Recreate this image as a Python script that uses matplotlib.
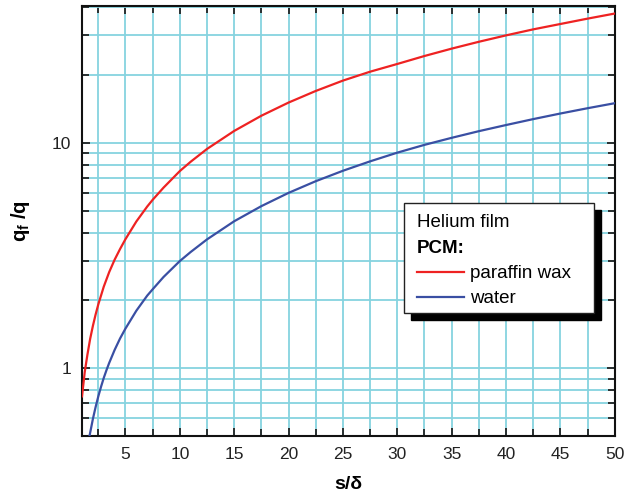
import matplotlib
matplotlib.use("Agg")
import matplotlib.pyplot as plt
from matplotlib.patches import Rectangle
from matplotlib.lines import Line2D
from matplotlib.ticker import MultipleLocator, FixedLocator, NullFormatter, FixedFormatter

plt.rcParams['font.family'] = ['Liberation Sans', 'DejaVu Sans']
plt.rcParams['mathtext.fontset'] = 'custom'
plt.rcParams['mathtext.rm'] = 'Liberation Sans'
plt.rcParams['mathtext.bf'] = 'Liberation Sans:bold'

# data
x_wax = [1.0, 1.25, 1.5, 1.75, 2.0, 2.25, 2.5, 3.0, 3.5, 4.0, 4.5, 5.0, 6.0, 7.0, 7.5, 8.5,
         10, 11, 12.5, 15, 17.5, 20, 22.5, 25, 27.5, 30, 32.5, 35, 37.5, 40, 42.5, 45, 47.5, 50]
y_wax = [0.75, 0.96, 1.15, 1.35, 1.54, 1.73, 1.92, 2.3, 2.67, 3.03, 3.38, 3.74, 4.48, 5.22, 5.59, 6.33,
         7.5, 8.25, 9.4, 11.3, 13.2, 15.1, 17.0, 18.9, 20.7, 22.4, 24.3, 26.2, 28.1, 30.0, 31.9, 33.7, 35.6, 37.5]
x_water = [1.69, 2.0, 2.25, 2.5, 2.75, 3.0, 3.25, 3.5, 4.0, 4.5, 5.0, 6.0, 7.0, 7.5, 8.5,
           10, 11, 12.5, 15, 17.5, 20, 22.5, 25, 27.5, 30, 32.5, 35, 37.5, 40, 42.5, 45, 47.5, 50]
y_water = [0.5, 0.595, 0.672, 0.75, 0.827, 0.905, 0.98, 1.055, 1.205, 1.355, 1.5, 1.8, 2.1, 2.24, 2.54,
           2.99, 3.28, 3.73, 4.49, 5.24, 6.0, 6.76, 7.52, 8.28, 9.05, 9.8, 10.53, 11.27, 12.0, 12.75, 13.5, 14.25, 15.0]

legend_title = "Helium film"
legend_sub = "PCM:"
labels = ["paraffin wax", "water"]
colors = ["#ee2222", "#3a4fa3"]

x_major = [5, 10, 15, 20, 25, 30, 35, 40, 45, 50]
y_major = [1, 10]
y_major_labels = ["1", "10"]
y_minor = [0.5, 0.6, 0.7, 0.8, 0.9, 2, 3, 4, 5, 6, 7, 8, 9, 20, 30, 40]

grid_color = "#86d3df"

fig = plt.figure(figsize=(6.26, 5.01), dpi=100)
ax = fig.add_axes([0.131, 0.1297, 0.851, 0.8583])

ax.set_yscale('log')
ax.set_xlim(1.0, 50)
ax.set_ylim(0.5, 40.5)

ax.xaxis.set_major_locator(FixedLocator(x_major))
ax.xaxis.set_minor_locator(MultipleLocator(2.5))
ax.yaxis.set_major_locator(FixedLocator(y_major))
ax.yaxis.set_major_formatter(FixedFormatter(y_major_labels))
ax.yaxis.set_minor_locator(FixedLocator(y_minor))
ax.yaxis.set_minor_formatter(NullFormatter())

ax.grid(True, which='both', color=grid_color, linewidth=1.3, zorder=0)
ax.set_axisbelow(True)

ax.tick_params(which='both', direction='in', top=True, right=True, colors='#222222',
               labelsize=12.5, width=1.3)
ax.tick_params(which='major', length=6, pad=8)
ax.tick_params(which='minor', length=5)
for s in ax.spines.values():
    s.set_linewidth(1.5)
    s.set_color('#111111')

l1, = ax.plot(x_wax, y_wax, color=colors[0], lw=1.6, zorder=3)
l2, = ax.plot(x_water, y_water, color=colors[1], lw=1.6, zorder=3)

ax.set_xlabel("s/δ", fontsize=14, fontweight='bold', labelpad=10)
ax.set_ylabel(r"$\mathbf{q_f}$ $\mathbf{/q}$", fontsize=14.5, labelpad=14)

# custom legend box with shadow (axes coordinates)
def px2ax(px, py):
    x0, y0 = 82, 436
    x1, y1 = 615, 6
    return (px - x0) / (x1 - x0), (y0 - py) / (y0 - y1)

bx0, by0 = px2ax(404, 313)
bx1, by1 = px2ax(594, 203)
sx0, sy0 = px2ax(411, 320)
ax.add_patch(Rectangle((sx0, sy0), bx1 - bx0, by1 - by0, transform=ax.transAxes,
                       facecolor='black', edgecolor='black', zorder=5))
ax.add_patch(Rectangle((bx0, by0), bx1 - bx0, by1 - by0, transform=ax.transAxes,
                       facecolor='white', edgecolor='#222222', lw=1.0, zorder=6))

tx, ty = px2ax(417, 227)
ax.text(tx, ty, legend_title, transform=ax.transAxes, fontsize=13.5, va='baseline', zorder=7)
tx, ty = px2ax(417, 253)
ax.text(tx, ty, legend_sub, transform=ax.transAxes, fontsize=13.5, fontweight='bold',
        va='baseline', zorder=7)
for i, (lab, line) in enumerate(zip(labels, [l1, l2])):
    lx0, ly = px2ax(417, 272 + 25 * i)
    lx1, _ = px2ax(464, 272 + 25 * i)
    ax.add_line(Line2D([lx0, lx1], [ly, ly], transform=ax.transAxes,
                       color=line.get_color(), lw=1.6, zorder=7))
    tx, ty = px2ax(470, 278 + 25 * i)
    ax.text(tx, ty, lab, transform=ax.transAxes, fontsize=13.5, va='baseline', zorder=7)

fig.savefig("out.png", dpi=100)
